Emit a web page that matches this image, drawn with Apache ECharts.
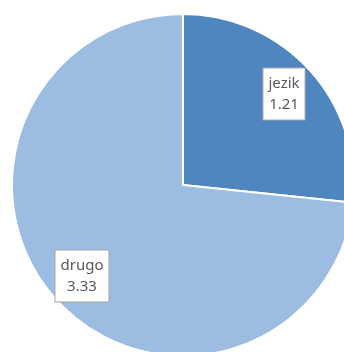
<!DOCTYPE html>
<html>
<head>
<meta charset="utf-8">
<script src="https://cdn.jsdelivr.net/npm/echarts@6/dist/echarts.min.js"></script>
<style>
  html, body { margin: 0; padding: 0; background: #fff; }
  #chart { width: 344px; height: 352px; }
</style>
</head>
<body>
<div id="chart"></div>
<script>
const categories = ['jezik', 'drugo'];
const values = [1.21, 3.33];
const colors = ['#4f86c0', '#9dbce2'];

const data = categories.map((name, i) => ({ name, value: values[i], itemStyle: { color: colors[i] } }));

const chart = echarts.init(document.getElementById('chart'));
chart.setOption({
  animation: false,
  series: [
    {
      type: 'pie',
      center: [183, 185],
      radius: [0, 171],
      startAngle: 90,
      clockwise: true,
      silent: true,
      data: data,
      itemStyle: { borderColor: '#fff', borderWidth: 2 },
      label: { show: false },
      labelLine: { show: false }
    },
    {
      // invisible ring used only to place labels further out
      type: 'pie',
      center: [183, 185],
      radius: [95, 171],
      startAngle: 90,
      clockwise: true,
      silent: true,
      data: data.map(d => ({ name: d.name, value: d.value })),
      itemStyle: { color: 'rgba(0,0,0,0)' },
      label: {
        show: true,
        position: 'inside',
        formatter: p => p.name + '\n' + p.value.toFixed(2),
        fontFamily: 'Noto Sans',
        fontSize: 15,
        lineHeight: 21,
        color: '#595959',
        backgroundColor: '#fff',
        borderColor: '#a6a6a6',
        borderWidth: 1,
        padding: [5, 5, 4, 5],
        align: 'center'
      },
      labelLine: { show: false }
    }
  ]
});
</script>
</body>
</html>
